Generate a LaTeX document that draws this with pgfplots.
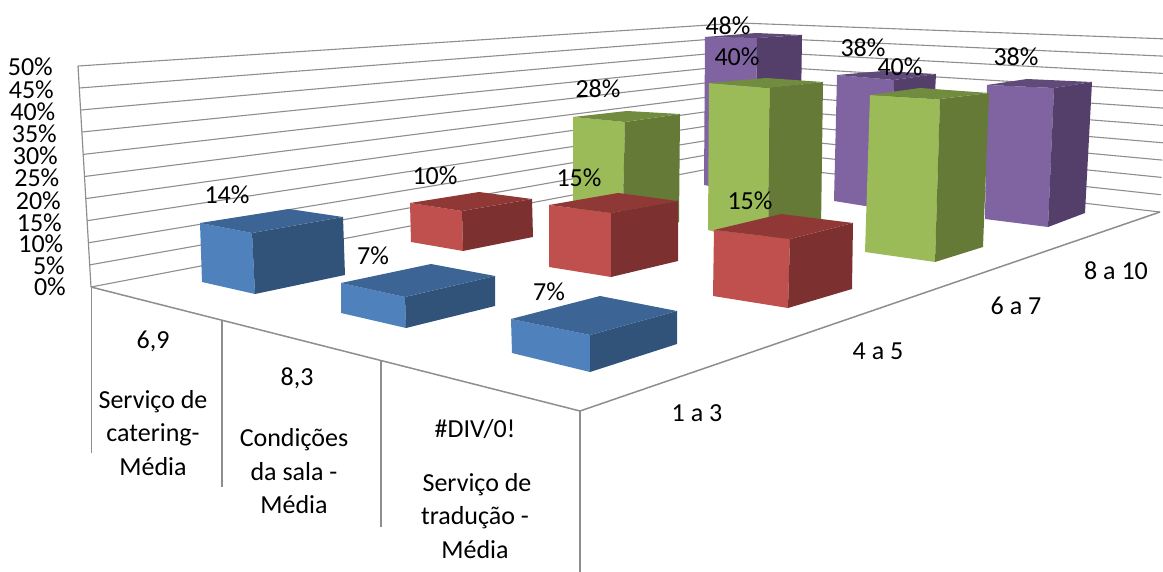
\documentclass[border=0pt]{standalone}
\usepackage{pgfplots}
\pgfplotsset{compat=1.18}
\usepackage{fontspec}
\setmainfont{Carlito}
\definecolor{bF}{HTML}{4F81BD}\definecolor{bR}{HTML}{325379}\definecolor{bT}{HTML}{3C6494}
\definecolor{rF}{HTML}{C0504D}\definecolor{rR}{HTML}{7C302F}\definecolor{rT}{HTML}{8F3836}
\definecolor{gF}{HTML}{9BBB59}\definecolor{gR}{HTML}{667A37}\definecolor{gT}{HTML}{728C3F}
\definecolor{pF}{HTML}{8064A2}\definecolor{pR}{HTML}{533F6A}\definecolor{pT}{HTML}{5F4A79}
\definecolor{gl}{HTML}{8E8E8E}
\begin{document}
\begin{tikzpicture}
\useasboundingbox (0,0) rectangle (1163pt,572pt);
\begin{axis}[
  at={(0,0)}, anchor=south west,
  hide axis, scale only axis, width=1163pt, height=572pt,
  xmin=0, xmax=1163, ymin=0, ymax=572, y dir=reverse,
  every axis plot/.append style={line join=round},
  nodes={font=\fontsize{26}{31}\selectfont, inner sep=0pt, text=black},
]
% walls: gridlines 50% ... 0%
\addplot[gl,line width=1.1pt] coordinates {(78,66)(740,23)(1168,39)};
\addplot[gl,line width=1.1pt] coordinates {(79.3,88)(740,37)(1167.2,56.3)};
\addplot[gl,line width=1.1pt] coordinates {(80.6,110)(740,51)(1166.4,73.6)};
\addplot[gl,line width=1.1pt] coordinates {(81.9,132)(740,65)(1165.6,90.9)};
\addplot[gl,line width=1.1pt] coordinates {(83.2,154.4)(740,79)(1164.8,108.2)};
\addplot[gl,line width=1.1pt] coordinates {(84.5,176.5)(740,93)(1164,125.5)};
\addplot[gl,line width=1.1pt] coordinates {(85.8,198.6)(740,107)(1163.2,142.8)};
\addplot[gl,line width=1.1pt] coordinates {(87.1,220.7)(740,121)(1162.4,160.1)};
\addplot[gl,line width=1.1pt] coordinates {(88.4,242.8)(740,135)(1161.6,177.4)};
\addplot[gl,line width=1.1pt] coordinates {(89.7,264.9)(740,149)(1160.8,194.7)};
\addplot[gl,line width=1.1pt] coordinates {(91,287)(740,163)(1160,212)};
\addplot[gl,line width=1.2pt] coordinates {(78,66)(91,287)};
% floor edges and category separators
\addplot[gl,line width=1.5pt] coordinates {(91,287)(580,411)(1160,212)};
\addplot[gl,line width=1.5pt] coordinates {(91.5,287)(91.5,453)};
\addplot[gl,line width=1.5pt] coordinates {(222,320)(222,487)};
\addplot[gl,line width=1.5pt] coordinates {(381,361)(381,527)};
\addplot[gl,line width=1.5pt] coordinates {(580,411)(580,572)};
% purple 8 a 10
\addplot[fill=pF,draw=none] coordinates {(705,37)(757,38)(755,195)(704,185)} --cycle;
\addplot[fill=pR,draw=none] coordinates {(757,38)(802,35)(800,185)(755,195)} --cycle;
\addplot[fill=pT,draw=none] coordinates {(705,37)(756,33)(802,35)(757,38)} --cycle;
\addplot[fill=pF,draw=none] coordinates {(837,75)(894,80)(890,210)(834,201)} --cycle;
\addplot[fill=pR,draw=none] coordinates {(894,80)(936,74)(930,195)(890,210)} --cycle;
\addplot[fill=pT,draw=none] coordinates {(837,75)(883,71)(936,74)(894,80)} --cycle;
\addplot[fill=pF,draw=none] coordinates {(987,85)(1054,88)(1048,227)(985,219)} --cycle;
\addplot[fill=pR,draw=none] coordinates {(1054,88)(1092,82)(1085,213)(1048,227)} --cycle;
\addplot[fill=pT,draw=none] coordinates {(987,85)(1027,79)(1092,82)(1054,88)} --cycle;
% green 6 a 7
\addplot[fill=gF,draw=none] coordinates {(573,117)(625,122)(622,245)(573,225)} --cycle;
\addplot[fill=gR,draw=none] coordinates {(625,122)(680,114)(679,222)(622,245)} --cycle;
\addplot[fill=gT,draw=none] coordinates {(573,117)(627,111)(680,114)(625,122)} --cycle;
\addplot[fill=gF,draw=none] coordinates {(709,83)(770,88)(768,246)(708,230)} --cycle;
\addplot[fill=gR,draw=none] coordinates {(770,88)(823,82)(821,228)(768,246)} --cycle;
\addplot[fill=gT,draw=none] coordinates {(709,83)(766,78)(823,82)(770,88)} --cycle;
\addplot[fill=gF,draw=none] coordinates {(870,95)(940,99)(935,262)(865,252)} --cycle;
\addplot[fill=gR,draw=none] coordinates {(940,99)(989,93)(983,247)(935,262)} --cycle;
\addplot[fill=gT,draw=none] coordinates {(870,95)(920,88)(989,93)(940,99)} --cycle;
% red 4 a 5
\addplot[fill=rF,draw=none] coordinates {(410,203)(462,211)(463,251)(411,242)} --cycle;
\addplot[fill=rR,draw=none] coordinates {(462,211)(532,199)(533,237)(463,251)} --cycle;
\addplot[fill=rT,draw=none] coordinates {(410,203)(479,192)(532,199)(462,211)} --cycle;
\addplot[fill=rF,draw=none] coordinates {(549,205)(611,213)(611,277)(549,267)} --cycle;
\addplot[fill=rR,draw=none] coordinates {(611,213)(678,201)(678,261)(611,277)} --cycle;
\addplot[fill=rT,draw=none] coordinates {(549,205)(618,193)(678,201)(611,213)} --cycle;
\addplot[fill=rF,draw=none] coordinates {(714,230)(790,239)(788,308)(713,296)} --cycle;
\addplot[fill=rR,draw=none] coordinates {(790,239)(853,223)(852,289)(788,308)} --cycle;
\addplot[fill=rT,draw=none] coordinates {(714,230)(781,214)(853,223)(790,239)} --cycle;
% blue 1 a 3
\addplot[fill=bF,draw=none] coordinates {(200,223)(252,233)(255,294)(202,282)} --cycle;
\addplot[fill=bR,draw=none] coordinates {(252,233)(343,217)(345,275)(255,294)} --cycle;
\addplot[fill=bT,draw=none] coordinates {(200,223)(289,209)(343,217)(252,233)} --cycle;
\addplot[fill=bF,draw=none] coordinates {(341,283)(405,297)(406,328)(341,313)} --cycle;
\addplot[fill=bR,draw=none] coordinates {(405,297)(495,276)(495,306)(406,328)} --cycle;
\addplot[fill=bT,draw=none] coordinates {(341,283)(431,264)(495,276)(405,297)} --cycle;
\addplot[fill=bF,draw=none] coordinates {(511,319)(590,335)(590,372)(512,353)} --cycle;
\addplot[fill=bR,draw=none] coordinates {(590,335)(677,311)(677,344)(590,372)} --cycle;
\addplot[fill=bT,draw=none] coordinates {(511,319)(600,296)(677,311)(590,335)} --cycle;
% value axis labels
\node[anchor=east] at (axis cs:53,67) {50\%};
\node[anchor=east] at (axis cs:54,90) {45\%};
\node[anchor=east] at (axis cs:55.5,112) {40\%};
\node[anchor=east] at (axis cs:57,134) {35\%};
\node[anchor=east] at (axis cs:58,156) {30\%};
\node[anchor=east] at (axis cs:59.5,178) {25\%};
\node[anchor=east] at (axis cs:61,201) {20\%};
\node[anchor=east] at (axis cs:62,223) {15\%};
\node[anchor=east] at (axis cs:63.5,244) {10\%};
\node[anchor=east] at (axis cs:65,266) {5\%};
\node[anchor=east] at (axis cs:66,287) {0\%};
% data labels
\node at (axis cs:227,195) {14\%};
\node at (axis cs:435,176) {10\%};
\node at (axis cs:373,256) {7\%};
\node at (axis cs:579,178) {15\%};
\node at (axis cs:549,292) {7\%};
\node at (axis cs:598,89) {28\%};
\node at (axis cs:728,26) {48\%};
\node at (axis cs:737,57) {40\%};
\node at (axis cs:863,48) {38\%};
\node at (axis cs:900,67) {40\%};
\node at (axis cs:1016,57) {38\%};
\node at (axis cs:750,201) {15\%};
% series labels
\node at (axis cs:697,413) {1 a 3};
\node at (axis cs:878,351) {4 a 5};
\node at (axis cs:1016,306) {6 a 7};
\node at (axis cs:1116,271) {8 a 10};
% category labels
\node at (axis cs:153,341) {6,9};
\node at (axis cs:153,402) {Serviço de};
\node at (axis cs:153,435) {catering-};
\node at (axis cs:153,467) {Média};
\node at (axis cs:297,378) {8,3};
\node at (axis cs:294,440) {Condições};
\node at (axis cs:294,472) {da sala -};
\node at (axis cs:294,505) {Média};
\node at (axis cs:475,429) {\#DIV/0!};
\node at (axis cs:477,485) {Serviço de};
\node at (axis cs:475,518) {tradução -};
\node at (axis cs:475,550) {Média};
\end{axis}
\end{tikzpicture}
\end{document}
